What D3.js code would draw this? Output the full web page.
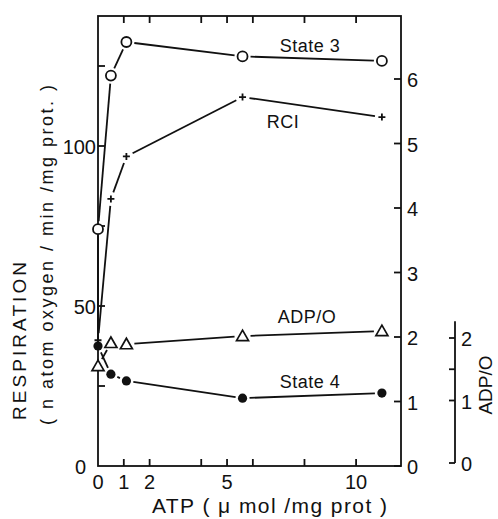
<!DOCTYPE html>
<html>
<head>
<meta charset="utf-8">
<script src="https://cdn.jsdelivr.net/npm/d3@7"></script>
<style>
  body { margin: 0; background: #fff; }
  svg { display: block; }
  text { font-family: "Liberation Sans", Arial, sans-serif; fill: #111; }
</style>
</head>
<body>
<script>
// ATP added (umol / mg prot)
const atp = [0, 0.5, 1.1, 5.6, 11];

// respiration, left axis
const state3 = [74, 122, 132.5, 128, 126.6];
const state4 = [37.5, 28.7, 26.6, 21.2, 22.8];

// ratios, right axes
const rci = [1.95, 4.14, 4.8, 5.72, 5.41];
const adpo = [1.55, 1.92, 1.9, 2.03, 2.11];

// tick values
const xTicks = [1, 2, 4, 5, 6, 8, 10];
const xLabels = [0, 1, 2, 5, 10];
const leftTicks = [25, 50, 75, 100, 125];
const leftLabels = [0, 50, 100];
const rightTicks = [0, 1, 2, 3, 4, 5, 6];
const adpoTicks = [0, 1, 1.5, 2];
const adpoLabels = [0, 1, 2];

const width = 498, height = 519;
const plot = {left: 98, right: 401, top: 16, bottom: 466};

const svg = d3.select("body").append("svg")
  .attr("width", width)
  .attr("height", height);

const x = d3.scaleLinear().domain([0, 11.74]).range([plot.left, plot.right]);
const yL = d3.scaleLinear().domain([0, 100]).range([plot.bottom, 146]);
const yR = d3.scaleLinear().domain([0, 6]).range([plot.bottom, 79]);
const yA = d3.scaleLinear().domain([0, 2]).range([463, 338]);

const ink = "#111";

// frame
svg.append("rect")
  .attr("x", plot.left).attr("y", plot.top)
  .attr("width", plot.right - plot.left).attr("height", plot.bottom - plot.top)
  .attr("fill", "none").attr("stroke", ink).attr("stroke-width", 1.8);

// tick marks, pointing into the plot
function ticks(values, pos, fixed, len, vertical) {
  svg.append("g").selectAll("line")
    .data(values).join("line")
    .attr(vertical ? "x1" : "y1", d => pos(d))
    .attr(vertical ? "x2" : "y2", d => pos(d))
    .attr(vertical ? "y1" : "x1", fixed)
    .attr(vertical ? "y2" : "x2", fixed + len)
    .attr("stroke", ink).attr("stroke-width", 1.8);
}
ticks(xTicks, x, plot.bottom, -7, true);
ticks(xTicks, x, plot.top, 7, true);
ticks(leftTicks, yL, plot.left, 7, false);
ticks(rightTicks, yR, plot.right, -7, false);

svg.selectAll(".xlab")
  .data(xLabels).enter().append("text")
  .attr("class", "xlab")
  .attr("x", d => x(d))
  .attr("y", 489)
  .attr("text-anchor", "middle")
  .attr("font-size", 20)
  .text(d => d);

svg.selectAll(".llab")
  .data(leftLabels).enter().append("text")
  .attr("class", "llab")
  .attr("x", d => d === 0 ? plot.left - 12 : plot.left - 2)
  .attr("y", d => yL(d) + 8)
  .attr("text-anchor", "end")
  .attr("font-size", 20)
  .text(d => d);

svg.selectAll(".rlab")
  .data(rightTicks).enter().append("text")
  .attr("class", "rlab")
  .attr("x", plot.right + 6)
  .attr("y", d => yR(d) + 8)
  .attr("font-size", 20)
  .text(d => d);

// separate ADP/O axis
const adpoX = 455;
svg.append("line")
  .attr("x1", adpoX).attr("x2", adpoX)
  .attr("y1", yA(0)).attr("y2", yA(2.27))
  .attr("stroke", ink).attr("stroke-width", 1.8);
ticks(adpoTicks, yA, adpoX, -6, false);

svg.selectAll(".alab")
  .data(adpoLabels).enter().append("text")
  .attr("class", "alab")
  .attr("x", adpoX + 6)
  .attr("y", d => yA(d) + 8)
  .attr("font-size", 20)
  .text(d => d);

svg.append("text")
  .attr("transform", "translate(492,385) rotate(-90)")
  .attr("text-anchor", "middle")
  .attr("font-size", 19)
  .text("ADP/O");

// axis titles
svg.append("text")
  .attr("x", 152).attr("y", 513)
  .attr("font-size", 21)
  .attr("textLength", 235)
  .text("ATP ( μ mol /mg prot )");

svg.append("text")
  .attr("transform", "translate(26,420) rotate(-90)")
  .attr("font-size", 19)
  .attr("textLength", 158)
  .text("RESPIRATION");

svg.append("text")
  .attr("transform", "translate(53,425) rotate(-90)")
  .attr("font-size", 18)
  .attr("textLength", 340)
  .text("( n atom oxygen / min /mg prot. )");

// connecting segments, shortened so they stop short of the markers
function segments(pts, gap) {
  const out = [];
  for (let i = 1; i < pts.length; i++) {
    const [x1, y1] = pts[i - 1], [x2, y2] = pts[i];
    const len = Math.hypot(x2 - x1, y2 - y1);
    if (len <= 2 * gap) continue;
    const ux = (x2 - x1) / len, uy = (y2 - y1) / len;
    out.push([x1 + ux * gap, y1 + uy * gap, x2 - ux * gap, y2 - uy * gap]);
  }
  return out;
}

function drawLine(pts, gap) {
  svg.append("g").selectAll("line")
    .data(segments(pts, gap)).enter().append("line")
    .attr("x1", d => d[0]).attr("y1", d => d[1])
    .attr("x2", d => d[2]).attr("y2", d => d[3])
    .attr("stroke", ink).attr("stroke-width", 1.8);
}

const pS3 = atp.map((a, i) => [x(a), yL(state3[i])]);
const pS4 = atp.map((a, i) => [x(a), yL(state4[i])]);
const pRci = atp.map((a, i) => [x(a), yR(rci[i])]);
const pAdpo = atp.map((a, i) => [x(a), yA(adpo[i])]);

drawLine(pS3, 8);
drawLine(pS4, 7);
drawLine(pRci, 7);
drawLine(pAdpo, 8);
// drop line joining state 4 and state 3 at zero ATP
drawLine([pS4[0], pS3[0]], 6);

// markers
svg.append("g").selectAll("circle")
  .data(pS3).enter().append("circle")
  .attr("cx", d => d[0]).attr("cy", d => d[1]).attr("r", 5)
  .attr("fill", "#fff").attr("stroke", ink).attr("stroke-width", 1.8);

svg.append("g").selectAll("circle")
  .data(pS4).enter().append("circle")
  .attr("cx", d => d[0]).attr("cy", d => d[1]).attr("r", 4.6)
  .attr("fill", ink);

svg.append("g").selectAll("path")
  .data(pAdpo).enter().append("path")
  .attr("transform", d => `translate(${d[0]},${d[1]})`)
  .attr("d", "M0,-6L6,4.5L-6,4.5Z")
  .attr("fill", "#fff").attr("stroke", ink).attr("stroke-width", 1.7);

svg.append("g").selectAll("path")
  .data(pRci).enter().append("path")
  .attr("transform", d => `translate(${d[0]},${d[1]})`)
  .attr("d", "M-3.5,0H3.5M0,-3.5V3.5")
  .attr("stroke", ink).attr("stroke-width", 1.8);

// series labels
const notes = [
  {t: "State 3", x: 310, y: 52},
  {t: "RCI", x: 283, y: 128},
  {t: "ADP/O", x: 307, y: 323},
  {t: "State 4", x: 310, y: 388}
];
svg.selectAll(".note")
  .data(notes).enter().append("text")
  .attr("class", "note")
  .attr("x", d => d.x).attr("y", d => d.y)
  .attr("text-anchor", "middle")
  .attr("font-size", 18)
  .attr("letter-spacing", 0.5)
  .text(d => d.t);
</script>
</body>
</html>
